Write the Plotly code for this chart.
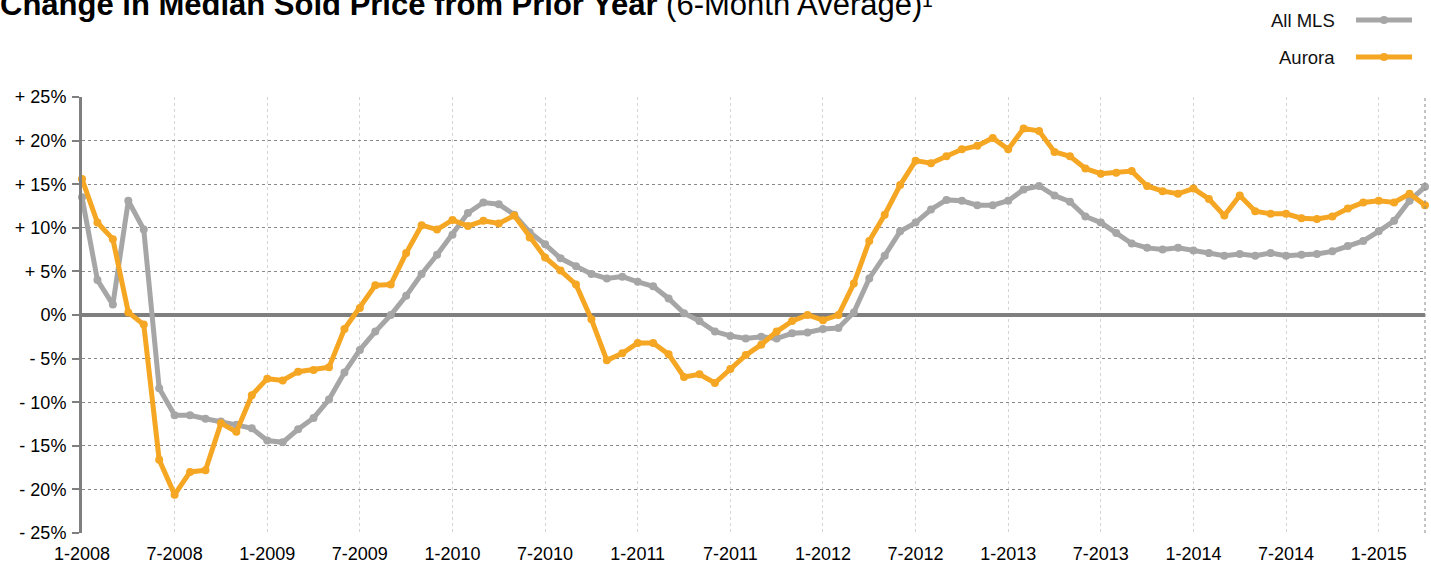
import plotly.graph_objects as go

# monthly index, 1-2008 .. 4-2015
months = list(range(88))
tick_pos = list(range(0, 88, 6))
tick_labels = ["1-2008", "7-2008", "1-2009", "7-2009", "1-2010", "7-2010", "1-2011",
               "7-2011", "1-2012", "7-2012", "1-2013", "7-2013", "1-2014", "7-2014", "1-2015"]

y_ticks = [25, 20, 15, 10, 5, 0, -5, -10, -15, -20, -25]
y_labels = ["+ 25%", "+ 20%", "+ 15%", "+ 10%", "+ 5%", "0%",
            "- 5%", "- 10%", "- 15%", "- 20%", "- 25%"]

all_mls = [13.5, 4.0, 1.2, 13.1, 9.8, -8.4, -11.5, -11.5, -11.9, -12.2, -12.6, -13.0,
           -14.4, -14.6, -13.1, -11.8, -9.7, -6.6, -4.0, -1.9, 0.0, 2.2, 4.7, 6.9,
           9.2, 11.7, 12.9, 12.7, 11.5, 9.5, 8.1, 6.5, 5.6, 4.7, 4.2, 4.4,
           3.8, 3.3, 1.9, 0.2, -0.7, -1.9, -2.4, -2.7, -2.5, -2.7, -2.1, -2.0,
           -1.6, -1.5, 0.3, 4.2, 6.8, 9.6, 10.6, 12.1, 13.2, 13.1, 12.6, 12.6,
           13.1, 14.4, 14.8, 13.7, 13.0, 11.3, 10.6, 9.4, 8.2, 7.7, 7.5, 7.7,
           7.4, 7.1, 6.8, 7.0, 6.8, 7.1, 6.8, 6.9, 7.0, 7.3, 7.9, 8.5,
           9.6, 10.8, 13.1, 14.7]

aurora = [15.6, 10.6, 8.7, 0.3, -1.1, -16.6, -20.6, -18.0, -17.8, -12.4, -13.4, -9.2,
          -7.3, -7.5, -6.5, -6.3, -6.0, -1.6, 0.8, 3.4, 3.5, 7.1, 10.3, 9.8,
          10.9, 10.2, 10.8, 10.5, 11.4, 8.9, 6.6, 5.1, 3.5, -0.5, -5.2, -4.4,
          -3.2, -3.2, -4.5, -7.1, -6.8, -7.8, -6.2, -4.6, -3.4, -1.9, -0.7, 0.0,
          -0.6, 0.0, 3.6, 8.5, 11.5, 14.9, 17.7, 17.4, 18.2, 19.0, 19.4, 20.3,
          19.0, 21.4, 21.1, 18.7, 18.2, 16.8, 16.2, 16.3, 16.5, 14.8, 14.2, 13.9,
          14.5, 13.3, 11.4, 13.7, 11.9, 11.6, 11.6, 11.1, 11.0, 11.3, 12.2, 12.9,
          13.1, 12.9, 13.9, 12.6]

GRAY = "#a6a6a6"
ORANGE = "#f5a623"
FONT = "Liberation Sans, Arial, sans-serif"

fig = go.Figure()

fig.add_trace(go.Scatter(
    x=months, y=all_mls, name="All MLS", mode="lines+markers",
    line=dict(color=GRAY, width=5), marker=dict(color=GRAY, size=8),
    cliponaxis=False
))
fig.add_trace(go.Scatter(
    x=months, y=aurora, name="Aurora", mode="lines+markers",
    line=dict(color=ORANGE, width=5), marker=dict(color=ORANGE, size=8),
    cliponaxis=False
))

# hand-built legend: label on the left, line sample on the right
legend_items = [("All MLS", GRAY, 20), ("Aurora", ORANGE, 57)]
shapes = []
annotations = []
for name, color, ypx in legend_items:
    shapes.append(dict(type="line", xref="paper", yref="paper",
                       x0=(1356 - 82) / 1343, x1=(1412 - 82) / 1343,
                       y0=(533 - ypx) / 436, y1=(533 - ypx) / 436,
                       line=dict(color=color, width=5)))
    shapes.append(dict(type="circle", xref="paper", yref="paper",
                       x0=(1380 - 82) / 1343, x1=(1388 - 82) / 1343,
                       y0=(533 - ypx - 4) / 436, y1=(533 - ypx + 4) / 436,
                       fillcolor=color, line=dict(color=color, width=0)))
    annotations.append(dict(text=name, xref="paper", yref="paper",
                            x=(1337 - 82) / 1343, y=(533 - ypx) / 436,
                            xanchor="right", yanchor="middle", showarrow=False,
                            font=dict(family=FONT, size=18.5, color="#111")))

# dotted right border
shapes.append(dict(type="line", xref="paper", yref="paper", x0=1, x1=1, y0=0, y1=1,
                   line=dict(color="#888", width=1, dash="dot")))

fig.update_layout(
    width=1431, height=565,
    margin=dict(l=82, r=6, t=97, b=32),
    paper_bgcolor="white", plot_bgcolor="white",
    showlegend=False,
    title=dict(
        text="<b>Change in Median Sold Price from Prior Year</b> (6-Month Average)\u00b9",
        x=0, xref="container", xanchor="left",
        y=0.992, yref="container", yanchor="middle",
        font=dict(family=FONT, size=31, color="black")
    ),
    shapes=shapes,
    annotations=annotations,
    font=dict(family=FONT, size=18, color="black"),
)

fig.update_xaxes(
    range=[0, 87], tickvals=tick_pos, ticktext=tick_labels,
    showgrid=True, gridcolor="#d4d4d4", griddash="dot", gridwidth=1,
    zeroline=False, showline=False, ticks="", ticklabelstandoff=8,
    automargin=False,
)
fig.update_yaxes(
    range=[-25, 25], tickvals=y_ticks, ticktext=y_labels,
    showgrid=True, gridcolor="#888", griddash="dot", gridwidth=1,
    zeroline=True, zerolinecolor="#7f7f7f", zerolinewidth=4,
    showline=True, linecolor="#7f7f7f", linewidth=3,
    ticks="outside", ticklen=7, tickwidth=2, tickcolor="#7f7f7f",
    ticklabelstandoff=2, automargin=False,
)

# drop the default page margin so the figure sits at the window's corner
fig.write_html("out.html", config={"displayModeBar": False},
               post_script="document.body.style.margin='0';")
